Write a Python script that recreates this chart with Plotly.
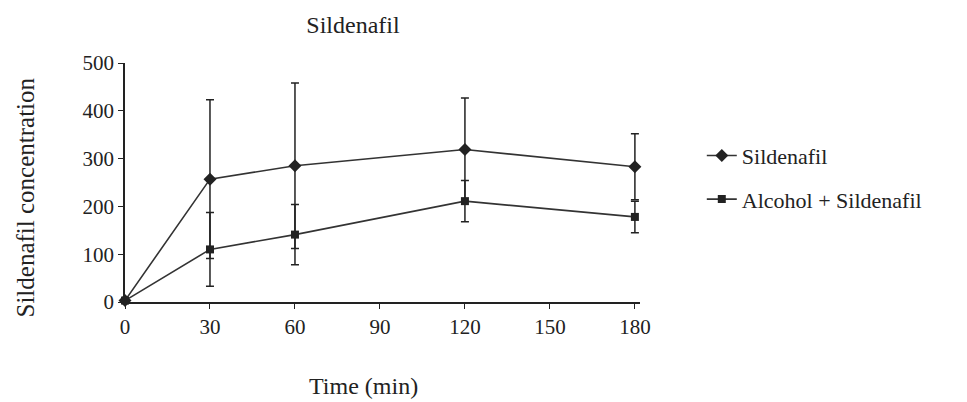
import plotly.graph_objects as go

time_min = [0, 30, 60, 120, 180]
sildenafil = [3, 257, 285, 319, 283]
sildenafil_sd = [0, 166, 173, 108, 69]
alcohol_sildenafil = [3, 110, 141, 211, 178]
alcohol_sildenafil_sd = [0, 77, 63, 43, 33]
x_ticks = [0, 30, 60, 90, 120, 150, 180]
y_ticks = [0, 100, 200, 300, 400, 500]

FONT = "Liberation Serif, Times New Roman, serif"
INK = "#222222"

# page body has an 8px margin: figure is drawn 8px in from the window edge
W, H = 959, 394
L, T = 117, 55
PW, PH = 515, 239.4

fig = go.Figure()
fig.add_trace(go.Scatter(
    x=time_min, y=sildenafil, name="Sildenafil", mode="lines+markers",
    legendgroup="a",
    line=dict(color="#333333", width=1.6),
    marker=dict(symbol="diamond", size=10, color=INK),
    error_y=dict(type="data", array=sildenafil_sd, visible=True,
                 color=INK, thickness=1.5, width=4),
    cliponaxis=False,
))
fig.add_trace(go.Scatter(
    x=time_min, y=alcohol_sildenafil, name="Alcohol + Sildenafil", mode="lines+markers",
    legendgroup="b",
    line=dict(color="#333333", width=1.6),
    marker=dict(symbol="square", size=8, color=INK),
    error_y=dict(type="data", array=alcohol_sildenafil_sd, visible=True,
                 color=INK, thickness=1.5, width=4),
    cliponaxis=False,
))

fig.update_layout(
    width=W, height=H,
    margin=dict(l=L, r=W - L - PW, t=T, b=H - T - PH),
    paper_bgcolor="white", plot_bgcolor="white",
    font=dict(family=FONT, size=20, color=INK),
    title=dict(text="Sildenafil", x=345 / W, xanchor="center",
               y=1 - 17 / H, yanchor="middle", font=dict(size=24)),
    showlegend=True,
    legend=dict(x=1.12, xanchor="left", y=0.52, yanchor="middle",
                font=dict(size=22), traceorder="grouped", tracegroupgap=12,
                bgcolor="rgba(0,0,0,0)"),
    xaxis=dict(range=[0, 181.8], tickvals=x_ticks, showgrid=False, zeroline=False,
               showline=True, linecolor=INK, linewidth=1.5,
               ticks="outside", ticklen=5, tickcolor=INK,
               tickfont=dict(size=21), automargin=False),
    yaxis=dict(range=[0, 500], tickvals=y_ticks, showgrid=False, zeroline=False,
               showline=True, linecolor=INK, linewidth=1.5,
               ticks="outside", ticklen=5, tickcolor=INK,
               tickfont=dict(size=21), automargin=False),
    annotations=[
        dict(text="Time (min)", xref="paper", yref="paper",
             x=(363 - 125) / PW, y=(302.7 - 387) / PH,
             xanchor="center", yanchor="middle", showarrow=False,
             font=dict(size=24)),
        dict(text="Sildenafil concentration", xref="paper", yref="paper",
             x=(25 - 125) / PW, y=(302.7 - 198) / PH, textangle=-90,
             xanchor="center", yanchor="middle", showarrow=False,
             font=dict(size=25)),
    ],
)

fig.write_html("out.html")
